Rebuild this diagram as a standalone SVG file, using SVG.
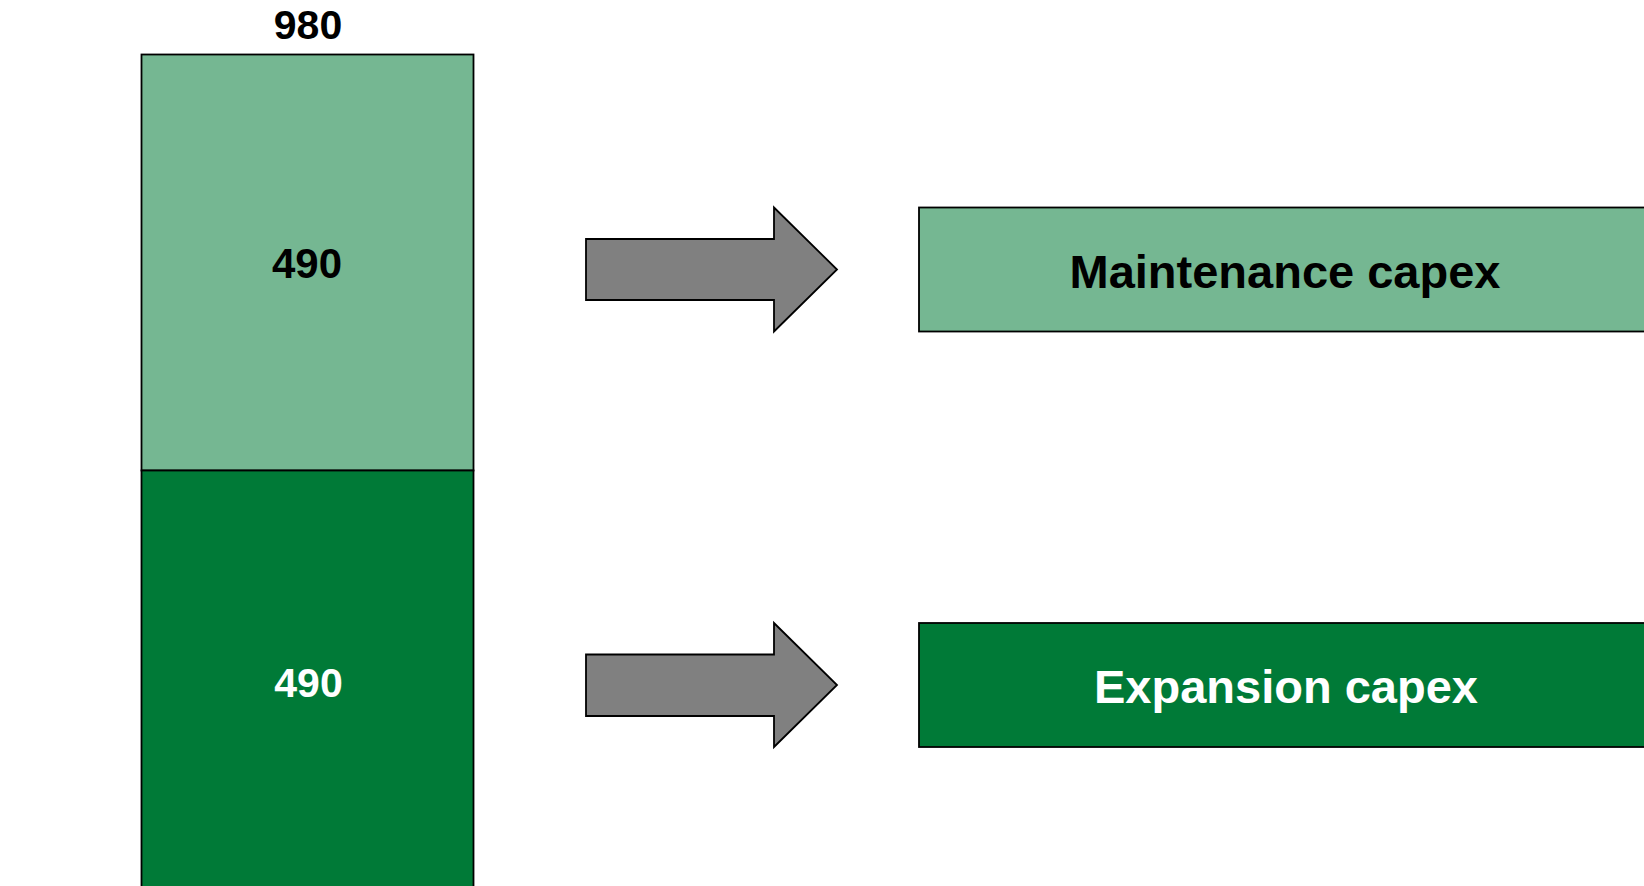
<svg xmlns="http://www.w3.org/2000/svg" width="1644" height="886" viewBox="0 0 1644 886">
<style>
.light{fill:#75B792;stroke:#000;stroke-width:1.8}
.dark{fill:#007A37;stroke:#000;stroke-width:1.8}
.arrow{fill:#808080;stroke:#000;stroke-width:1.8;stroke-linejoin:miter}
.num{font-family:"Liberation Sans",Arial,sans-serif;font-weight:bold;font-size:41px;text-anchor:middle}
.big{font-size:42px}
.lbl{font-family:"Liberation Sans",Arial,sans-serif;font-weight:bold;font-size:47px;text-anchor:middle}
</style>
<rect width="1644" height="886" fill="#fff"/>
<g id="total">
<text class="num" x="308" y="39" fill="#000">980</text>
</g>
<g id="bar-maintenance">
<rect class="light" x="141.5" y="54.5" width="332" height="416"/>
<text class="num big" x="307" y="278" fill="#000">490</text>
</g>
<g id="bar-expansion">
<rect class="dark" x="141.5" y="470.5" width="332" height="420"/>
<text class="num" x="308.5" y="697" fill="#fff">490</text>
</g>
<g id="connectors">
<polygon class="arrow" points="586,239 774,239 774,207.5 837,269.5 774,331.5 774,300 586,300"/>
<polygon class="arrow" points="586,654.5 774,654.5 774,623 837,685 774,747 774,716 586,716"/>
</g>
<g id="maintenance-capex">
<rect class="light" x="919" y="207.5" width="740" height="124"/>
<text class="lbl" x="1285" y="288" fill="#000">Maintenance capex</text>
</g>
<g id="expansion-capex">
<rect class="dark" x="919" y="623" width="740" height="124"/>
<text class="lbl" x="1286" y="703" fill="#fff">Expansion capex</text>
</g>
</svg>
